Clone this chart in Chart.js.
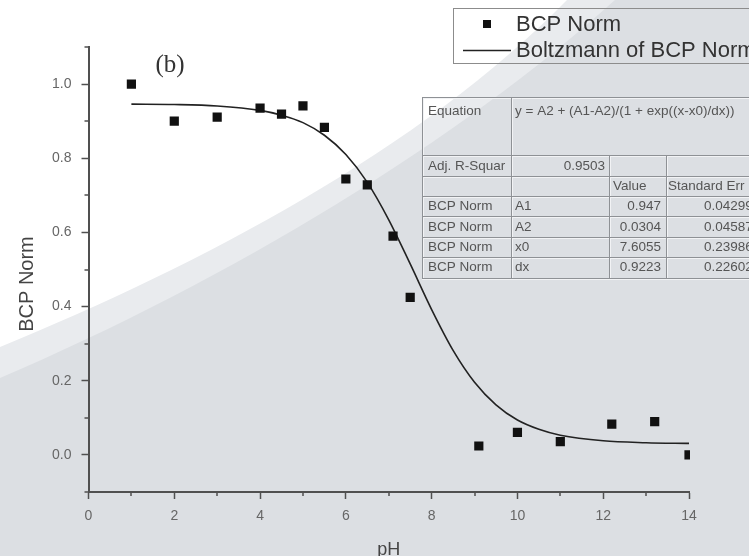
<!DOCTYPE html>
<html>
<head>
<meta charset="utf-8">
<script src="https://cdn.jsdelivr.net/npm/chart.js@4.4.1/dist/chart.umd.min.js"></script>
<style>
  html, body { margin: 0; padding: 0; background: #fff; }
  #wrap { width: 749px; height: 556px; }
</style>
</head>
<body>
<div id="wrap"><canvas id="bcpChart" width="749" height="556"></canvas></div>
<script>
// measured BCP Norm vs pH
const phValues = [1, 2, 3, 4, 4.5, 5, 5.5, 6, 6.5, 7.1, 7.5, 9.1, 10, 11, 12.2, 13.2, 14];
const bcpNorm = [1.0, 0.900, 0.911, 0.935, 0.919, 0.941, 0.883, 0.744, 0.728, 0.590, 0.425, 0.024, 0.061, 0.036, 0.083, 0.090, 0.0];

// Boltzmann fit line
const fitPh = [1, 2, 3, 4, 4.5, 5, 5.5, 6, 6.5, 7, 7.5, 8, 8.5, 9, 9.5, 10, 10.5, 11, 12, 13, 14];
const fitNorm = [0.946, 0.945, 0.941, 0.929, 0.916, 0.896, 0.862, 0.810, 0.735, 0.634, 0.515, 0.392, 0.282, 0.196, 0.135, 0.094, 0.069, 0.053, 0.038, 0.033, 0.031];

const xTicks = [0, 2, 4, 6, 8, 10, 12, 14];
const xMinorTicks = [1, 3, 5, 7, 9, 11, 13];
const yTicks = [0, 0.2, 0.4, 0.6, 0.8, 1.0];
const yMinorTicks = [-0.1, 0.1, 0.3, 0.5, 0.7, 0.9, 1.1];

// fit report table
const fitEquation = "y = A2 + (A1-A2)/(1 + exp((x-x0)/dx))";
const adjRSquare = "0.9503";
const paramNames = ["A1", "A2", "x0", "dx"];
const paramValues = ["0.947", "0.0304", "7.6055", "0.9223"];
const paramErrors = ["0.04299", "0.04587", "0.23986", "0.22602"];

const SANS = '"Liberation Sans", Arial, sans-serif';
const AXIS = "#505050";

// slide-style background sweeps
const backdrop = {
  id: "backdrop",
  beforeDraw(chart) {
    const { ctx, width, height } = chart;
    ctx.save();
    ctx.fillStyle = "#ffffff";
    ctx.fillRect(0, 0, width, height);

    ctx.beginPath();
    ctx.moveTo(0, 347);
    ctx.bezierCurveTo(200, 265, 420, 150, 567, 0);
    ctx.lineTo(width, 0);
    ctx.lineTo(width, height);
    ctx.lineTo(0, height);
    ctx.closePath();
    ctx.fillStyle = "#e9ebee";
    ctx.fill();

    ctx.beginPath();
    ctx.moveTo(0, 378);
    ctx.bezierCurveTo(230, 280, 460, 140, 615, 0);
    ctx.lineTo(width, 0);
    ctx.lineTo(width, height);
    ctx.lineTo(0, height);
    ctx.closePath();
    ctx.fillStyle = "#dcdfe3";
    ctx.fill();
    ctx.restore();
  }
};

// minor ticks, titles, legend box and the fit table
const extras = {
  id: "extras",
  afterDraw(chart) {
    const { ctx, chartArea } = chart;
    const xs = chart.scales.x;
    const ys = chart.scales.y;
    ctx.save();

    ctx.strokeStyle = AXIS;
    ctx.lineWidth = 1.5;
    ctx.beginPath();
    xMinorTicks.forEach(v => {
      const px = Math.round(xs.getPixelForValue(v));
      ctx.moveTo(px, chartArea.bottom);
      ctx.lineTo(px, chartArea.bottom + 4);
    });
    yMinorTicks.forEach(v => {
      const py = Math.round(ys.getPixelForValue(v));
      ctx.moveTo(chartArea.left, py);
      ctx.lineTo(chartArea.left - 4, py);
    });
    ctx.stroke();

    // panel tag
    ctx.fillStyle = "#333";
    ctx.font = '25px "Liberation Serif", "Times New Roman", serif';
    ctx.textAlign = "center";
    ctx.textBaseline = "middle";
    ctx.fillText("(b)", 170, 65);

    // axis titles
    ctx.fillStyle = "#444";
    ctx.font = "20px " + SANS;
    ctx.save();
    ctx.translate(27, 284);
    ctx.rotate(-Math.PI / 2);
    ctx.fillText("BCP Norm", 0, 0);
    ctx.restore();
    ctx.font = "18px " + SANS;
    ctx.textBaseline = "alphabetic";
    ctx.fillText("pH", (chartArea.left + chartArea.right) / 2, 555);

    // legend
    const pts = chart.data.datasets[0];
    const fit = chart.data.datasets[1];
    ctx.strokeStyle = "#8c8c8c";
    ctx.lineWidth = 1;
    ctx.strokeRect(453.5, 8.5, 330, 55);
    ctx.fillStyle = pts.backgroundColor;
    ctx.fillRect(483, 20, 8, 8);
    ctx.strokeStyle = fit.borderColor;
    ctx.lineWidth = 1.5;
    ctx.beginPath();
    ctx.moveTo(463, 50.5);
    ctx.lineTo(511, 50.5);
    ctx.stroke();
    ctx.fillStyle = "#333";
    ctx.font = "22px " + SANS;
    ctx.textAlign = "left";
    ctx.textBaseline = "middle";
    ctx.fillText(pts.label, 516, 25);
    ctx.fillText(fit.label, 516, 51);

    // fit report grid
    const cols = [422, 511, 609, 666];
    const rows = [97, 155, 176, 196, 216, 237, 257, 278];
    const right = 760;
    const hLine = (y, col) => {
      ctx.strokeStyle = col;
      ctx.beginPath();
      rows.forEach(r => { ctx.moveTo(cols[0], r + y); ctx.lineTo(right, r + y); });
      ctx.stroke();
    };
    const vLine = (x, col) => {
      ctx.strokeStyle = col;
      ctx.beginPath();
      ctx.moveTo(cols[0] + x, rows[0]); ctx.lineTo(cols[0] + x, rows[7]);
      ctx.moveTo(cols[1] + x, rows[0]); ctx.lineTo(cols[1] + x, rows[7]);
      ctx.moveTo(cols[2] + x, rows[1]); ctx.lineTo(cols[2] + x, rows[7]);
      ctx.moveTo(cols[3] + x, rows[1]); ctx.lineTo(cols[3] + x, rows[7]);
      ctx.stroke();
    };
    ctx.lineWidth = 1;
    hLine(1.5, "#f2f3f5");
    vLine(1.5, "#f2f3f5");
    hLine(0.5, "#8e9195");
    vLine(0.5, "#8e9195");

    ctx.fillStyle = "#555";
    ctx.font = "13.5px " + SANS;
    ctx.textBaseline = "middle";
    ctx.textAlign = "left";
    ctx.fillText("Equation", 428, 111);
    ctx.fillText(fitEquation, 515, 111);
    ctx.fillText("Adj. R-Squar", 428, 166);
    ctx.fillText("Value", 613, 186);
    ctx.fillText("Standard Err", 668, 186);
    const rowMid = [206, 227, 247, 267];
    paramNames.forEach((name, i) => {
      ctx.textAlign = "left";
      ctx.fillText(pts.label, 428, rowMid[i]);
      ctx.fillText(name, 515, rowMid[i]);
      ctx.fillText(paramErrors[i], 704, rowMid[i]);
      ctx.textAlign = "right";
      ctx.fillText(paramValues[i], 661, rowMid[i]);
    });
    ctx.textAlign = "right";
    ctx.fillText(adjRSquare, 605, 166);

    ctx.restore();
  }
};

const tickFont = { family: SANS, size: 14 };

new Chart(document.getElementById("bcpChart"), {
  type: "scatter",
  data: {
    datasets: [
      {
        label: "BCP Norm",
        data: phValues.map((x, i) => ({ x: x, y: bcpNorm[i] })),
        pointStyle: "rect",
        pointRadius: 6.5,
        backgroundColor: "#111111",
        borderColor: "#111111",
        borderWidth: 0,
        clip: 1,
        order: 1
      },
      {
        label: "Boltzmann of BCP Norm",
        type: "line",
        data: fitPh.map((x, i) => ({ x: x, y: fitNorm[i] })),
        borderColor: "#222222",
        borderWidth: 1.6,
        pointRadius: 0,
        fill: false,
        cubicInterpolationMode: "monotone",
        order: 2
      }
    ]
  },
  options: {
    responsive: false,
    animation: false,
    layout: { padding: { top: 47, right: 60, left: 0, bottom: 0 } },
    plugins: { legend: { display: false }, tooltip: { enabled: false } },
    scales: {
      x: {
        type: "linear",
        min: 0,
        max: 14,
        afterBuildTicks: s => { s.ticks = xTicks.map(v => ({ value: v })); },
        afterFit: s => { s.height = 64; },
        grid: { drawOnChartArea: false, drawTicks: true, tickLength: 7, tickColor: AXIS, tickWidth: 1.5 },
        border: { color: AXIS, width: 2 },
        ticks: { color: "#666", font: tickFont, padding: 9, maxRotation: 0 }
      },
      y: {
        type: "linear",
        min: -0.1,
        max: 1.1,
        afterBuildTicks: s => { s.ticks = yTicks.map(v => ({ value: v })); },
        afterFit: s => { s.width = 88.5; },
        grid: { drawOnChartArea: false, drawTicks: true, tickLength: 7, tickColor: AXIS, tickWidth: 1.5 },
        border: { color: AXIS, width: 2 },
        ticks: { color: "#666", font: tickFont, padding: 10, callback: v => v.toFixed(1) }
      }
    }
  },
  plugins: [backdrop, extras]
});
</script>
</body>
</html>
